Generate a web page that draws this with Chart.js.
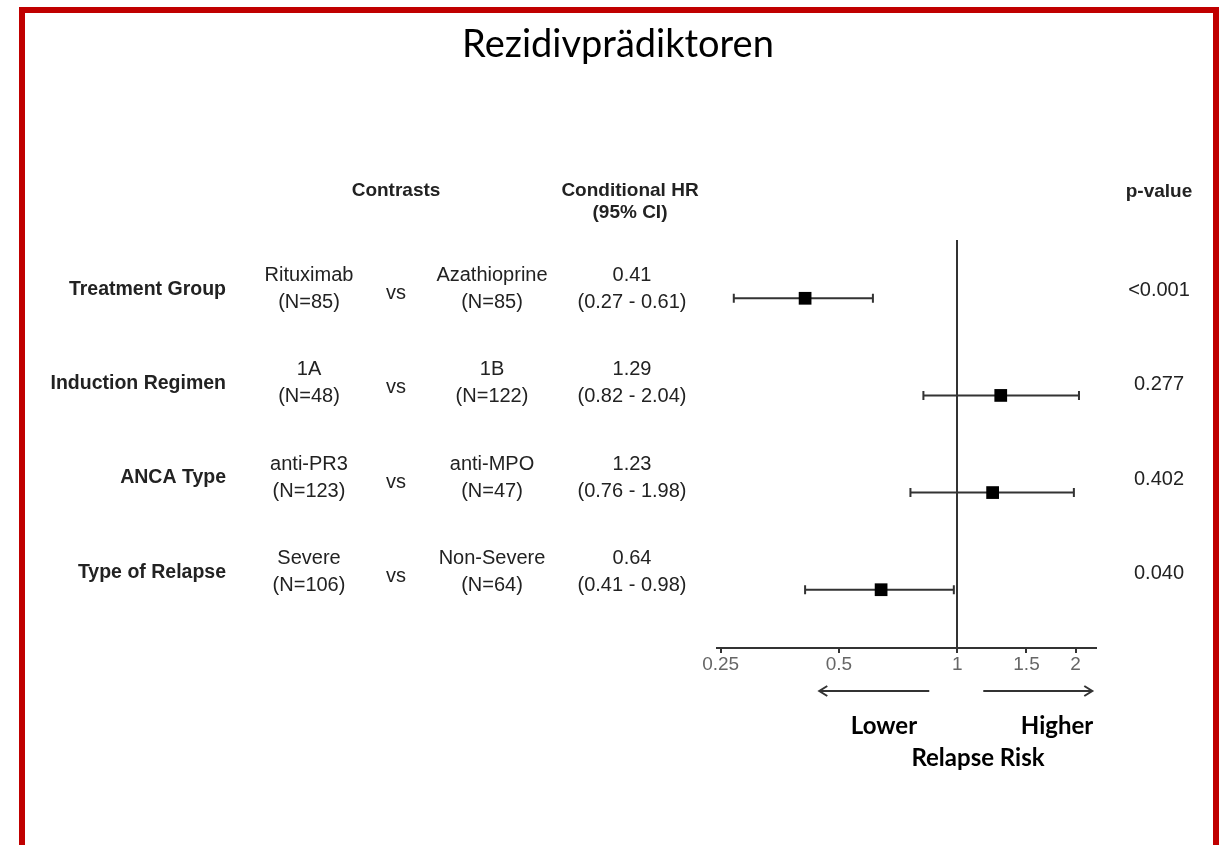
<!DOCTYPE html>
<html>
<head>
<meta charset="utf-8">
<script src="https://cdn.jsdelivr.net/npm/chart.js@4"></script>
<style>
  body { margin: 0; background: #fff; }
  #wrap { width: 1225px; height: 845px; position: relative; }
</style>
</head>
<body>
<div id="wrap"><canvas id="forest" width="1225" height="845"></canvas></div>
<script>
const rowLabels = ["Treatment Group", "Induction Regimen", "ANCA Type", "Type of Relapse"];
const groupA = ["Rituximab", "1A", "anti-PR3", "Severe"];
const groupACount = ["(N=85)", "(N=48)", "(N=123)", "(N=106)"];
const groupB = ["Azathioprine", "1B", "anti-MPO", "Non-Severe"];
const groupBCount = ["(N=85)", "(N=122)", "(N=47)", "(N=64)"];
const hazardRatios = [0.41, 1.29, 1.23, 0.64];
const ciLower = [0.27, 0.82, 0.76, 0.41];
const ciUpper = [0.61, 2.04, 1.98, 0.98];
const pValues = ["<0.001", "0.277", "0.402", "0.040"];
const tickValues = [0.25, 0.5, 1, 1.5, 2];
const tickLabels = ["0.25", "0.5", "1", "1.5", "2"];

const ink = "#333";
const textColor = "#222";
const arial = "'Liberation Sans', Arial, sans-serif";
const calibri = "Lato, 'Noto Sans', sans-serif";

const points = hazardRatios.map((v, i) => ({ x: v, y: i + 1 }));

// error bars and the line of no effect, drawn through the scales
const whiskers = {
    id: "whiskers",
    beforeDatasetsDraw(chart) {
        const { ctx, scales: { x, y }, chartArea } = chart;
        ctx.save();
        ctx.strokeStyle = ink;
        ctx.lineWidth = 2;
        const x1 = Math.round(x.getPixelForValue(1));
        ctx.beginPath();
        ctx.moveTo(x1, chartArea.top);
        ctx.lineTo(x1, chartArea.bottom);
        ctx.stroke();
        for (let i = 0; i < hazardRatios.length; i++) {
            const py = y.getPixelForValue(i + 1);
            const lo = x.getPixelForValue(ciLower[i]);
            const hi = x.getPixelForValue(ciUpper[i]);
            ctx.beginPath();
            ctx.moveTo(lo, py);
            ctx.lineTo(hi, py);
            ctx.moveTo(lo, py - 4.5);
            ctx.lineTo(lo, py + 4.5);
            ctx.moveTo(hi, py - 4.5);
            ctx.lineTo(hi, py + 4.5);
            ctx.stroke();
        }
        ctx.restore();
    }
};

function arrow(ctx, from, to, y) {
    const dir = Math.sign(to - from);
    ctx.beginPath();
    ctx.moveTo(from, y);
    ctx.lineTo(to, y);
    ctx.moveTo(to - dir * 8, y - 5);
    ctx.lineTo(to, y);
    ctx.lineTo(to - dir * 8, y + 5);
    ctx.stroke();
}

const table = {
    id: "table",
    afterDraw(chart) {
        const { ctx, scales: { x } } = chart;
        ctx.save();
        ctx.fillStyle = textColor;
        ctx.textBaseline = "middle";

        ctx.textAlign = "center";
        ctx.font = "bold 19px " + arial;
        ctx.fillText("Contrasts", 396, 191);
        ctx.fillText("Conditional HR", 630, 191);
        ctx.fillText("(95% CI)", 630, 213);
        ctx.fillText("p-value", 1159, 192);

        for (let i = 0; i < rowLabels.length; i++) {
            const mid = 289.5 + i * 94.3;
            ctx.textAlign = "right";
            ctx.font = "bold 19.5px " + arial;
            ctx.fillText(rowLabels[i], 226, mid);

            ctx.textAlign = "center";
            ctx.font = "20px " + arial;
            ctx.fillText(groupA[i], 309, mid - 14);
            ctx.fillText(groupACount[i], 309, mid + 13);
            ctx.fillText("vs", 396, mid + 4);
            ctx.fillText(groupB[i], 492, mid - 14);
            ctx.fillText(groupBCount[i], 492, mid + 13);
            ctx.fillText(hazardRatios[i].toFixed(2), 632, mid - 14);
            ctx.fillText("(" + ciLower[i].toFixed(2) + " - " + ciUpper[i].toFixed(2) + ")", 632, mid + 13);
            ctx.fillText(pValues[i], 1159, mid + 1);
        }

        // direction arrows below the axis
        const x1 = x.getPixelForValue(1);
        ctx.strokeStyle = ink;
        ctx.lineWidth = 2;
        arrow(ctx, x1 - 28, x1 - 138, 691);
        arrow(ctx, x1 + 26, x1 + 135, 691);

        ctx.fillStyle = "#000";
        ctx.font = "bold 24px " + calibri;
        ctx.fillText("Lower", 884, 726);
        ctx.fillText("Higher", 1057, 726);
        ctx.fillText("Relapse Risk", 978, 758);

        ctx.font = "38px " + calibri;
        ctx.fillText("Rezidivprädiktoren", 618, 45);

        ctx.strokeStyle = "#c00000";
        ctx.lineWidth = 6;
        ctx.strokeRect(22, 10, 1194, 900);
        ctx.restore();
    }
};

new Chart(document.getElementById("forest"), {
    type: "scatter",
    data: {
        datasets: [{
            label: "Conditional HR",
            data: points,
            pointStyle: "rect",
            pointRadius: 9,
            pointHoverRadius: 9,
            backgroundColor: "#000",
            borderColor: "#000",
            borderWidth: 0
        }]
    },
    options: {
        responsive: false,
        animation: false,
        layout: { padding: { left: 717, right: 129, top: 240, bottom: 157 } },
        plugins: {
            legend: { display: false },
            tooltip: { enabled: false }
        },
        scales: {
            x: {
                type: "logarithmic",
                min: 0.2447,
                max: 2.254,
                afterBuildTicks: (scale) => {
                    scale.ticks = tickValues.map(v => ({ value: v }));
                },
                afterFit: (scale) => { scale.height = 40; },
                ticks: {
                    color: "#666",
                    font: { family: arial, size: 19 },
                    padding: 0,
                    autoSkip: false,
                    maxRotation: 0,
                    callback: (v) => tickLabels[tickValues.indexOf(v)]
                },
                grid: {
                    display: true,
                    drawOnChartArea: false,
                    drawTicks: true,
                    tickLength: 5,
                    color: ink,
                    lineWidth: 2
                },
                border: { display: true, color: ink, width: 2 }
            },
            y: {
                type: "linear",
                display: false,
                reverse: true,
                min: 0.4,
                max: 4.6
            }
        }
    },
    plugins: [whiskers, table]
});
</script>
</body>
</html>
